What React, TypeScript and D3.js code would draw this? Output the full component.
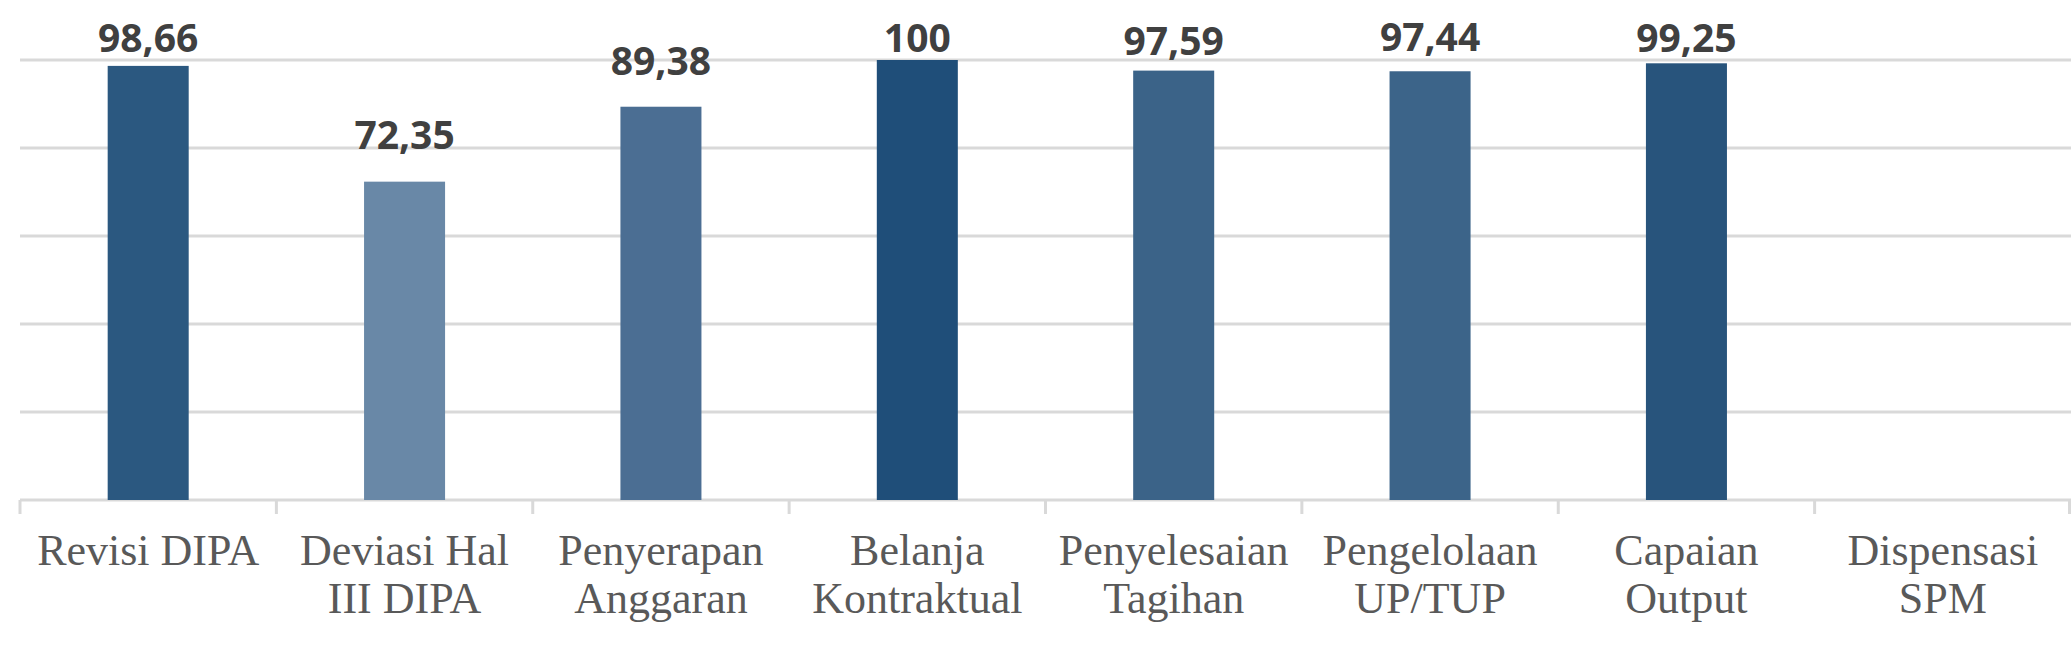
import React, { useEffect } from "react";
import { scaleBand, scaleLinear, range } from "d3";

const WIDTH = 2071;
const HEIGHT = 659;
const MARGIN = { top: 60, right: 0, bottom: 159, left: 20 };

const CATEGORIES = [
    ["Revisi DIPA"],
    ["Deviasi Hal", "III DIPA"],
    ["Penyerapan", "Anggaran"],
    ["Belanja", "Kontraktual"],
    ["Penyelesaian", "Tagihan"],
    ["Pengelolaan", "UP/TUP"],
    ["Capaian", "Output"],
    ["Dispensasi", "SPM"],
];

const VALUES: (number | null)[] = [98.66, 72.35, 89.38, 100, 97.59, 97.44, 99.25, null];
const VALUE_LABELS = ["98,66", "72,35", "89,38", "100", "97,59", "97,44", "99,25", ""];
const Y_TICKS = [0, 20, 40, 60, 80, 100];

const BAR_COLORS = ["#2b5880", "#6988a7", "#4b6e93", "#1f4e79", "#3b6388", "#3c6489", "#28547c", "#1f4e79"];
// data labels in the source sit at slightly uneven distances above the bars
const LABEL_GAP = [14, 33, 32, 8, 16, 20, 11, 0];

const GRID_COLOR = "#d9d9d9";
const VALUE_COLOR = "#404040";
const CATEGORY_COLOR = "#595959";

export default function App() {
    useEffect(() => {
        document.body.style.margin = "0";
    }, []);

    const innerW = WIDTH - MARGIN.left - MARGIN.right;
    const innerH = HEIGHT - MARGIN.top - MARGIN.bottom;

    const xScale = scaleBand<number>()
        .domain(range(CATEGORIES.length))
        .range([0, innerW])
        .paddingInner(0.684)
        .paddingOuter(0.342);
    const bandScale = scaleBand<number>()
        .domain(range(CATEGORIES.length))
        .range([0, innerW]);
    const yScale = scaleLinear().domain([0, 100]).range([innerH, 0]);

    const step = bandScale.step();

    return (
        <svg width={WIDTH} height={HEIGHT} style={{ display: "block" }}>
            <rect width={WIDTH} height={HEIGHT} fill="#fff" />
            <g transform={`translate(${MARGIN.left},${MARGIN.top})`}>
                {Y_TICKS.map(t => (
                    <line
                        key={t}
                        x1={0}
                        x2={innerW}
                        y1={yScale(t)}
                        y2={yScale(t)}
                        stroke={GRID_COLOR}
                        strokeWidth={3}
                    />
                ))}
                {range(CATEGORIES.length + 1).map(i => (
                    <line
                        key={i}
                        x1={Math.min(i * step, innerW - 1.5)}
                        x2={Math.min(i * step, innerW - 1.5)}
                        y1={innerH}
                        y2={innerH + 14}
                        stroke={GRID_COLOR}
                        strokeWidth={3}
                    />
                ))}
                {VALUES.map((v, i) =>
                    v == null ? null : (
                        <rect
                            key={i}
                            x={xScale(i)}
                            width={xScale.bandwidth()}
                            y={yScale(v)}
                            height={innerH - yScale(v)}
                            fill={BAR_COLORS[i]}
                        />
                    ),
                )}
                {VALUES.map((v, i) =>
                    v == null ? null : (
                        <text
                            key={i}
                            x={(bandScale(i) ?? 0) + step / 2}
                            y={yScale(v) - LABEL_GAP[i]}
                            textAnchor="middle"
                            fontFamily="'Open Sans', sans-serif"
                            fontWeight={700}
                            fontSize={39}
                            fill={VALUE_COLOR}
                        >
                            {VALUE_LABELS[i]}
                        </text>
                    ),
                )}
                {CATEGORIES.map((lines, i) => (
                    <text
                        key={i}
                        x={(bandScale(i) ?? 0) + step / 2}
                        y={innerH + 65}
                        textAnchor="middle"
                        fontFamily="'Liberation Serif', serif"
                        fontSize={44}
                        fill={CATEGORY_COLOR}
                    >
                        {lines.map((l, j) => (
                            <tspan key={j} x={(bandScale(i) ?? 0) + step / 2} dy={j === 0 ? 0 : 48}>
                                {l}
                            </tspan>
                        ))}
                    </text>
                ))}
            </g>
        </svg>
    );
}
